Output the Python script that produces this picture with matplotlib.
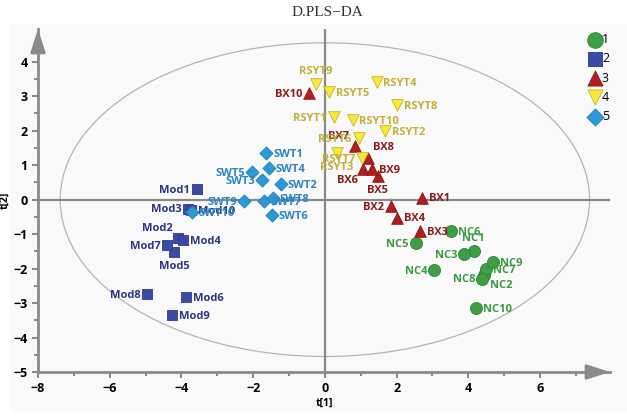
import numpy as np
import matplotlib
matplotlib.use("Agg")
import matplotlib.pyplot as plt
from matplotlib.patches import Ellipse, Rectangle

plt.rcParams['font.family'] = ['Open Sans', 'DejaVu Sans']

# score values t[1], t[2] per group
nc_names = ['NC1', 'NC2', 'NC3', 'NC4', 'NC5', 'NC6', 'NC7', 'NC8', 'NC9', 'NC10']
nc_t1 = [4.15, 4.45, 3.88, 3.05, 2.53, 3.53, 4.50, 4.39, 4.69, 4.22]
nc_t2 = [-1.50, -2.18, -1.57, -2.03, -1.26, -0.91, -2.02, -2.29, -1.81, -3.15]

mod_names = ['Mod1', 'Mod2', 'Mod3', 'Mod4', 'Mod5', 'Mod6', 'Mod7', 'Mod8', 'Mod9', 'Mod10']
mod_t1 = [-3.57, -4.10, -3.81, -3.96, -4.21, -3.86, -4.39, -4.95, -4.26, -3.74]
mod_t2 = [0.30, -1.12, -0.26, -1.16, -1.53, -2.83, -1.32, -2.73, -3.36, -0.31]

bx_names = ['BX1', 'BX2', 'BX3', 'BX4', 'BX5', 'BX6', 'BX7', 'BX8', 'BX9', 'BX10']
bx_t1 = [2.71, 1.84, 2.65, 2.00, 1.47, 1.07, 0.83, 1.19, 1.31, -0.44]
bx_t2 = [0.06, -0.19, -0.91, -0.52, 0.68, 0.88, 1.56, 1.22, 0.89, 3.10]

rs_names = ['RSYT1', 'RSYT2', 'RSYT3', 'RSYT4', 'RSYT5', 'RSYT6', 'RSYT7', 'RSYT8', 'RSYT9', 'RSYT10']
rs_t1 = [0.25, 1.68, 0.34, 1.44, 0.12, 0.94, 1.04, 2.01, -0.25, 0.77]
rs_t2 = [2.39, 1.99, 1.34, 3.42, 3.12, 1.78, 1.20, 2.75, 3.36, 2.31]

swt_names = ['SWT1', 'SWT2', 'SWT3', 'SWT4', 'SWT5', 'SWT6', 'SWT7', 'SWT8', 'SWT9', 'SWT10']
swt_t1 = [-1.64, -1.23, -1.76, -1.57, -2.04, -1.48, -1.69, -1.46, -2.26, -3.71]
swt_t2 = [1.36, 0.44, 0.57, 0.91, 0.79, -0.46, -0.05, 0.04, -0.03, -0.35]

# Hotelling T2 ellipse half axes
ell_a = 7.38
ell_b = 4.55

# where each sample name goes relative to its marker
label_side = {
    'NC1': 't', 'NC2': 'br', 'NC3': 'l', 'NC4': 'l', 'NC5': 'l', 'NC6': 'r',
    'NC7': 'r', 'NC8': 'l', 'NC9': 'r', 'NC10': 'r',
    'Mod1': 'l', 'Mod2': 'tl', 'Mod3': 'l', 'Mod4': 'r', 'Mod5': 'b', 'Mod6': 'r',
    'Mod7': 'l', 'Mod8': 'l', 'Mod9': 'r', 'Mod10': 'r',
    'BX1': 'r', 'BX2': 'l', 'BX3': 'r', 'BX4': 'r', 'BX5': 'b', 'BX6': 'bl',
    'BX7': 'tl', 'BX8': 'tr', 'BX9': 'r', 'BX10': 'l',
    'RSYT1': 'l', 'RSYT2': 'r', 'RSYT3': 'b', 'RSYT4': 'r', 'RSYT5': 'r',
    'RSYT6': 'l', 'RSYT7': 'l', 'RSYT8': 'r', 'RSYT9': 't', 'RSYT10': 'r',
    'SWT1': 'r', 'SWT2': 'r', 'SWT3': 'l', 'SWT4': 'r', 'SWT5': 'l', 'SWT6': 'r',
    'SWT7': 'r', 'SWT8': 'r', 'SWT9': 'l', 'SWT10': 'r',
}
side_opts = {
    'r': ((5, -1), 'left', 'center'),
    'l': ((-5, -1), 'right', 'center'),
    't': ((0, 5), 'center', 'bottom'),
    'b': ((0, -6), 'center', 'top'),
    'tr': ((4, 3), 'left', 'bottom'),
    'tl': ((-4, 3), 'right', 'bottom'),
    'br': ((4, -4), 'left', 'top'),
    'bl': ((-4, -4), 'right', 'top'),
}

groups = [
    ('1', nc_names, nc_t1, nc_t2, 'o', 75, '#3f9f45', '#2e7f34', '#3a9a3e'),
    ('2', mod_names, mod_t1, mod_t2, 's', 58, '#3b4aa3', '#2c3a8c', '#2b3580'),
    ('3', bx_names, bx_t1, bx_t2, '^', 70, '#b01e1e', '#8e1414', '#8b1a1a'),
    ('4', rs_names, rs_t1, rs_t2, 'v', 70, '#f7ea3a', '#c9b21e', '#c3ae3a'),
    ('5', swt_names, swt_t1, swt_t2, 'D', 45, '#2b9ad6', '#1e80bd', '#2a85c0'),
]

fig = plt.figure(figsize=(6.27, 4.2), dpi=100)
fig.patches.append(Rectangle((10 / 627, 10 / 420), 617 / 627, 385 / 420,
                             transform=fig.transFigure, color='#f9f9f9', zorder=-10))
ax = fig.add_axes([38 / 627, 48 / 420, 572 / 627, 343 / 420])
ax.set_facecolor('none')
ax.set_xlim(-8, 7.95)
ax.set_ylim(-5, 4.95)

ax.add_patch(Ellipse((0, 0), 2 * ell_a, 2 * ell_b, fill=False, ec='#b5b5b5', lw=0.9))
ax.axhline(0, color='#8a8a8a', lw=1.6, zorder=1)
ax.axvline(0, color='#8a8a8a', lw=1.6, zorder=1)

for lab, names, xs, ys, mk, sz, fc, ec, tc in groups:
    ax.scatter(xs, ys, marker=mk, s=sz, c=fc, edgecolors=ec, linewidths=0.6,
               zorder=3, label=lab)
    for n, x, y in zip(names, xs, ys):
        off, ha, va = side_opts[label_side[n]]
        ax.annotate(n, (x, y), xytext=off, textcoords='offset points',
                    ha=ha, va=va, fontsize=8, fontweight='bold', color=tc, zorder=4)

# axes with arrow heads
for s in ['top', 'right']:
    ax.spines[s].set_visible(False)
for s in ['left', 'bottom']:
    ax.spines[s].set_color('#8a8a8a')
    ax.spines[s].set_linewidth(2)
ax.annotate('', xy=(1.0, 0), xycoords='axes fraction', xytext=(0.96, 0),
            arrowprops=dict(arrowstyle='-|>,head_length=1.4,head_width=0.45',
                            color='#8a8a8a', lw=2, shrinkA=0, shrinkB=0))
ax.annotate('', xy=(0, 1.0), xycoords='axes fraction', xytext=(0, 0.95),
            arrowprops=dict(arrowstyle='-|>,head_length=1.4,head_width=0.45',
                            color='#8a8a8a', lw=2, shrinkA=0, shrinkB=0))

ax.set_xticks(np.arange(-8, 7, 2))
ax.set_xticks(np.arange(-8, 8, 1), minor=True)
ax.set_yticks(np.arange(-5, 5, 1))
ax.set_yticks(np.arange(-5, 4.6, 0.5), minor=True)
ax.tick_params(which='both', color='#8a8a8a', width=1.5, labelsize=9)
ax.tick_params(which='major', length=4)
ax.tick_params(which='minor', length=3)
for t in ax.get_xticklabels() + ax.get_yticklabels():
    t.set_fontweight('bold')
ax.set_xlabel('t[1]', fontsize=7.5, fontweight='bold', labelpad=2)
ax.set_ylabel('t[2]', fontsize=7.5, fontweight='bold', labelpad=2)

fig.text(327 / 627, 1 - 12 / 420, 'D.PLS\u2212DA', ha='center', va='center',
         fontsize=11, family=['Liberation Serif', 'DejaVu Serif'], color='#333333')

ax.legend(loc='upper left', bbox_to_anchor=(582 / 627, 1 - 28 / 420),
          bbox_transform=fig.transFigure, frameon=False, fontsize=9,
          handletextpad=0.0, labelspacing=0.5, markerscale=1.3,
          handlelength=1.2, borderaxespad=0)

fig.savefig('out.png', dpi=100)
